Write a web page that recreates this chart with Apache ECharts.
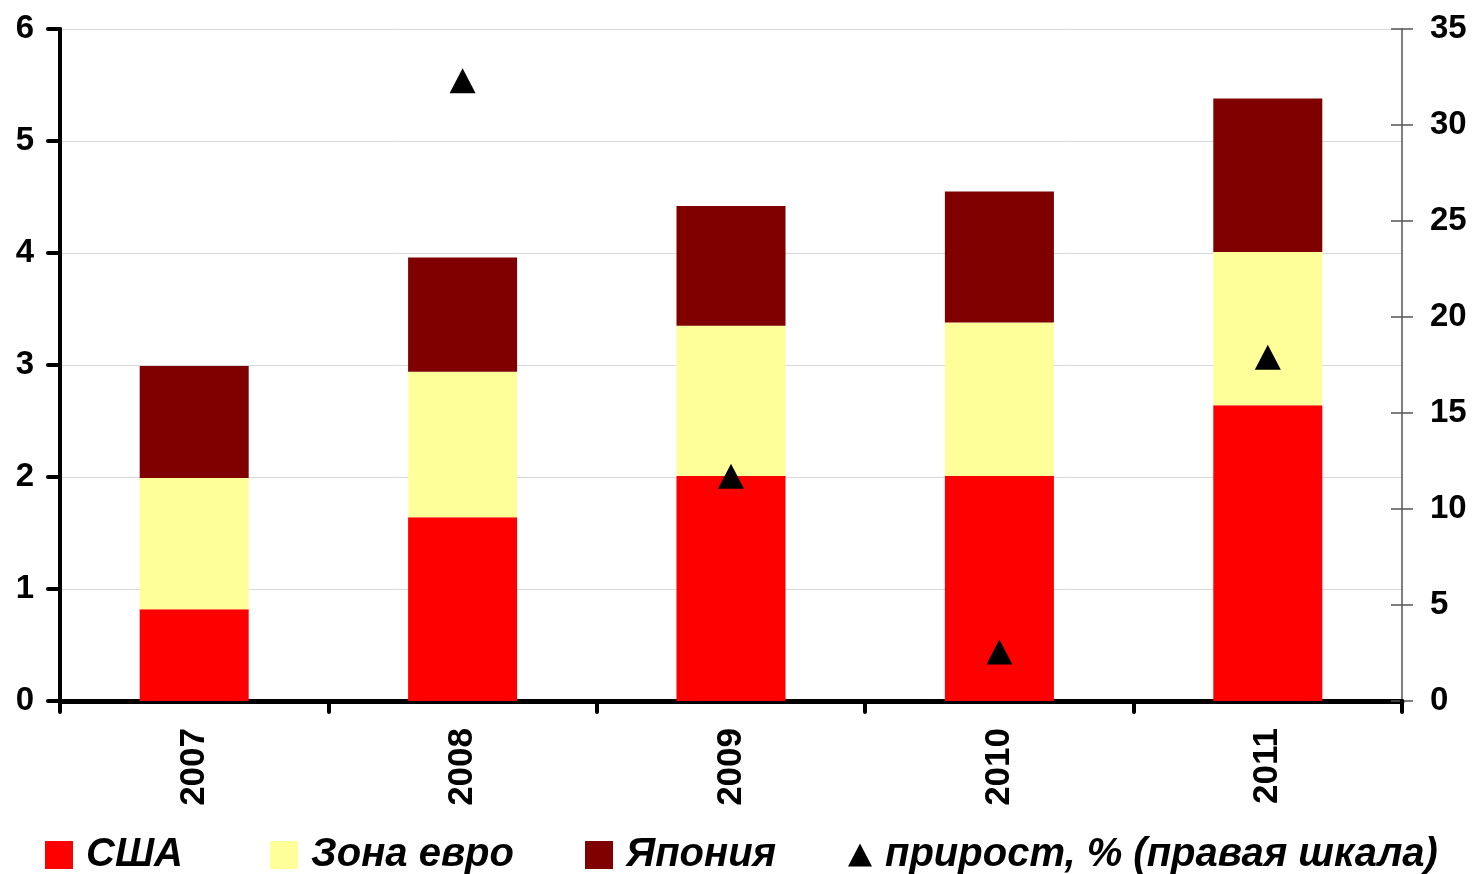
<!DOCTYPE html>
<html>
<head>
<meta charset="utf-8">
<script src="https://cdn.jsdelivr.net/npm/echarts@6/dist/echarts.min.js"></script>
<style>
  html, body { margin: 0; padding: 0; background: #fff; }
  #chart { width: 1472px; height: 874px; }
</style>
</head>
<body>
<div id="chart"></div>
<script>
// Years on the category axis
const years = ['2007', '2008', '2009', '2010', '2011'];
// Stacked components (left scale)
const usa = [0.82, 1.64, 2.01, 2.01, 2.64];
const euroArea = [1.17, 1.30, 1.34, 1.37, 1.37];
const japan = [1.00, 1.02, 1.07, 1.17, 1.37];
// Growth, % (right scale)
const growth = [null, 32.3, 11.7, 2.55, 17.9];
// Axis ranges
const leftMax = 6, leftStep = 1;
const rightMax = 35, rightStep = 5;

const FONT = '"Liberation Sans", Arial, sans-serif';

const chart = echarts.init(document.getElementById('chart'), null, { renderer: 'canvas' });

function legendAt(name, icon, left, iconW, iconH) {
  return {
    data: [{ name: name, icon: icon }],
    left: left,
    top: 835,
    padding: 0,
    orient: 'horizontal',
    itemWidth: iconW,
    itemHeight: iconH,
    selectedMode: false,
    textStyle: {
      fontFamily: FONT, fontSize: 40, fontWeight: 'bold', fontStyle: 'italic',
      color: '#000', padding: [0, 0, 0, 8], lineHeight: 40
    }
  };
}

chart.setOption({
  animation: false,
  backgroundColor: '#fff',
  grid: { left: 60, right: 70, top: 29, bottom: 173, containLabel: false },
  legend: [
    legendAt('США', 'rect', 45, 28, 28),
    legendAt('Зона евро', 'rect', 270, 28, 28),
    legendAt('Япония', 'rect', 585, 28, 28),
    legendAt('прирост, % (правая шкала)', 'triangle', 848, 24, 23)
  ],
  xAxis: {
    type: 'category',
    data: years,
    axisLine: { show: true, lineStyle: { color: '#000', width: 5 } },
    axisTick: { show: true, alignWithLabel: false, length: 11, lineStyle: { color: '#000', width: 4, cap: 'round' } },
    axisLabel: {
      interval: 0, rotate: 90, margin: 27,
      fontFamily: FONT, fontSize: 35, fontWeight: 'bold', color: '#000'
    },
    splitLine: { show: false }
  },
  yAxis: [
    {
      type: 'value', min: 0, max: leftMax, interval: leftStep, position: 'left',
      axisLine: { show: true, lineStyle: { color: '#000', width: 4 } },
      axisTick: { show: true, length: 12, lineStyle: { color: '#000', width: 4, cap: 'round' } },
      axisLabel: { margin: 26, fontFamily: FONT, fontSize: 33, fontWeight: 'bold', color: '#000' },
      splitLine: { show: true, lineStyle: { color: '#d9d9d9', width: 1 } }
    },
    {
      type: 'value', min: 0, max: rightMax, interval: rightStep, position: 'right',
      axisLine: { show: true, lineStyle: { color: '#555', width: 1.5 } },
      axisTick: { show: true, length: 11, lineStyle: { color: '#555', width: 1.5 } },
      axisLabel: { margin: 28, fontFamily: FONT, fontSize: 33, fontWeight: 'bold', color: '#000' },
      splitLine: { show: false }
    },
    {
      // inner half of the right-hand cross ticks
      type: 'value', min: 0, max: rightMax, interval: rightStep, position: 'right',
      axisLine: { show: false },
      axisTick: { show: true, inside: true, length: 11, lineStyle: { color: '#555', width: 1.5 } },
      axisLabel: { show: false },
      splitLine: { show: false }
    }
  ],
  series: [
    {
      name: 'США', type: 'bar', stack: 'total', data: usa, barWidth: 109,
      itemStyle: { color: '#ff0000' }
    },
    {
      name: 'Зона евро', type: 'bar', stack: 'total', data: euroArea, barWidth: 109,
      itemStyle: { color: '#ffff99' }
    },
    {
      name: 'Япония', type: 'bar', stack: 'total', data: japan, barWidth: 109,
      itemStyle: { color: '#800000' }
    },
    {
      name: 'прирост, % (правая шкала)', type: 'scatter', yAxisIndex: 1, data: growth,
      symbol: 'triangle', symbolSize: [26, 25], z: 10,
      itemStyle: { color: '#000', opacity: 1 }
    }
  ]
});
</script>
</body>
</html>
